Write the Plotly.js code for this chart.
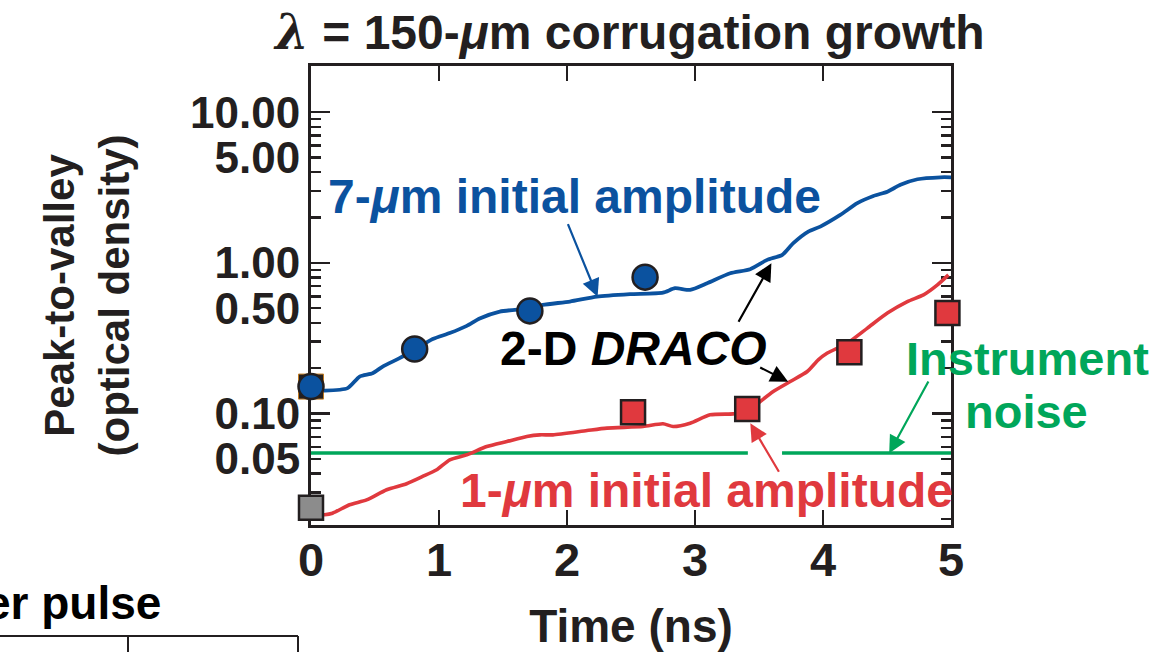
<!DOCTYPE html>
<html>
<head>
<meta charset="utf-8">
<script src="https://cdn.plot.ly/plotly-3.0.1.min.js"></script>
<style>html,body{margin:0;padding:0;background:#fff;}#chart{width:1168px;height:652px;}</style>
</head>
<body>
<div id="chart"></div>
<script>
// ---- data ----
const blueSimT = [0, 0.106, 0.286, 0.380, 0.481, 0.560, 0.692, 0.810, 0.951, 1.084, 1.217, 1.318, 1.475, 1.710, 1.811, 2.023, 2.234, 2.492, 2.750, 2.844, 2.962, 3.095, 3.275, 3.431, 3.564, 3.682, 3.768, 3.885, 3.979, 4.135, 4.268, 4.394, 4.503, 4.605, 4.738, 4.918, 5.0];
const blueSimV = [0.143, 0.142, 0.1475, 0.176, 0.185, 0.205, 0.233, 0.265, 0.312, 0.342, 0.382, 0.427, 0.475, 0.500, 0.526, 0.554, 0.597, 0.620, 0.635, 0.679, 0.662, 0.733, 0.854, 0.908, 1.047, 1.130, 1.352, 1.614, 1.741, 2.08, 2.49, 2.78, 2.97, 3.30, 3.59, 3.70, 3.70];
const redSimT = [0.05, 0.106, 0.168, 0.301, 0.434, 0.591, 0.747, 0.872, 0.982, 1.084, 1.217, 1.373, 1.530, 1.686, 1.788, 1.890, 2.156, 2.312, 2.594, 2.750, 2.829, 2.962, 3.118, 3.298, 3.408, 3.509, 3.611, 3.744, 3.877, 3.963, 4.034, 4.190, 4.347, 4.503, 4.659, 4.785, 4.894, 4.980];
const redSimV = [0.0213, 0.0213, 0.0218, 0.0248, 0.0267, 0.0312, 0.0342, 0.0382, 0.0423, 0.0493, 0.0532, 0.0604, 0.0652, 0.0704, 0.0722, 0.0722, 0.0771, 0.080, 0.082, 0.0855, 0.082, 0.0863, 0.098, 0.0995, 0.1026, 0.120, 0.140, 0.163, 0.190, 0.227, 0.252, 0.293, 0.369, 0.464, 0.553, 0.613, 0.714, 0.832];
const blueExpT = [0, 0.81, 1.71, 2.61];
const blueExpV = [0.151, 0.268, 0.480, 0.804];
const redExpT = [2.516, 3.408, 4.206, 4.972];
const redExpV = [0.102, 0.107, 0.255, 0.464];
const grayExpT = [0];
const grayExpV = [0.0237];
const noiseT = [0, 3.413, null, 3.68, 5];
const noiseV = [0.0546, 0.0546, null, 0.0546, 0.0546];
const xTicks = [0, 1, 2, 3, 4, 5];
const yTickVals = [0.05, 0.1, 0.5, 1, 5, 10];
const yTickText = ['0.05', '0.10', '0.50', '1.00', '5.00', '10.00'];
const yMajorVals = [0.1, 1, 10];
const yMinorVals = [0.02, 0.03, 0.04, 0.06, 0.07, 0.08, 0.09, 0.2, 0.3, 0.4, 0.6, 0.7, 0.8, 0.9, 2, 3, 4, 6, 7, 8, 9];

// ---- styling ----
const FONT = 'Liberation Sans, Arial, Helvetica, sans-serif';
const DARK = '#231f20';
const BLUE = '#0b529f';
const RED = '#e0393e';
const GREEN = '#00a65a';
const GRAY = '#8c8c8c';
const L = 311, R = 951, T = 66, B = 525, W = 1168, H = 652;
const px = x => (x - L) / (R - L);
const py = y => (B - y) / (B - T);
const yRange = [Math.log10(0.0182), Math.log10(20.27)];

const traces = [
  {x: noiseT, y: noiseV, mode: 'lines', line: {color: GREEN, width: 3.5}, hoverinfo: 'skip', connectgaps: false, cliponaxis: false},
  {x: blueSimT, y: blueSimV, mode: 'lines', line: {color: BLUE, width: 3.8, shape: 'spline', smoothing: 0.6}, cliponaxis: false},
  {x: redSimT, y: redSimV, mode: 'lines', line: {color: RED, width: 3.6, shape: 'spline', smoothing: 0.6}, cliponaxis: false},
  {x: [0], y: [blueExpV[0]], mode: 'markers', marker: {symbol: 'square', size: 25, color: DARK, line: {color: '#c07a20', width: 1}}, cliponaxis: false},
  {x: blueExpT, y: blueExpV, mode: 'markers', marker: {symbol: 'circle', size: 25, color: BLUE, line: {color: DARK, width: 2.5}}, cliponaxis: false},
  {x: redExpT, y: redExpV, mode: 'markers', marker: {symbol: 'square', size: 24, color: RED, line: {color: DARK, width: 2.5}}, cliponaxis: false},
  {x: grayExpT, y: grayExpV, mode: 'markers', marker: {symbol: 'square', size: 24, color: GRAY, line: {color: DARK, width: 2.5}}, cliponaxis: false},
  {x: [null], y: [null], yaxis: 'y2', mode: 'markers', hoverinfo: 'skip', showlegend: false}
];

function arrow(hx, hy, tx, ty, color) {
  return {xref: 'paper', yref: 'paper', x: px(hx), y: py(hy), ax: tx - hx, ay: ty - hy,
    axref: 'pixel', ayref: 'pixel', text: '', showarrow: true, arrowhead: 2, arrowsize: 1.6,
    arrowwidth: 2.2, arrowcolor: color, standoff: 0};
}
function label(text, cx, cy, color, size, extra) {
  return Object.assign({xref: 'paper', yref: 'paper', x: px(cx), y: py(cy), xanchor: 'center', yanchor: 'middle',
    text: text, showarrow: false, font: {family: FONT, size: size, color: color, weight: 'bold'}}, extra || {});
}

const annotations = [
  label('7-<i>μ</i>m initial amplitude', 574, 196, BLUE, 48),
  label('1-<i>μ</i>m initial amplitude', 706, 490, RED, 48),
  label('2-D <i>DRACO</i>', 633, 348, '#000000', 48),
  label('Instrument', 1027, 358, GREEN, 47),
  label('noise', 1026, 411, GREEN, 47),
  label('er pulse', 163, 603, '#000000', 46, {xanchor: 'right'}),
  arrow(597.6, 296.7, 567.3, 222.7, BLUE),
  arrow(771.4, 263.3, 737.7, 323.3, '#000000'),
  arrow(788.2, 381.7, 758.7, 366.7, '#000000'),
  arrow(750.3, 423.3, 779.8, 473.3, RED),
  arrow(889.2, 453.3, 929.2, 380, GREEN)
];

const shapes = [
  {type: 'line', xref: 'paper', yref: 'paper', x0: px(0), x1: px(298), y0: py(636), y1: py(636), line: {color: DARK, width: 2}},
  {type: 'line', xref: 'paper', yref: 'paper', x0: px(128), x1: px(128), y0: py(636), y1: py(660), line: {color: DARK, width: 2}},
  {type: 'line', xref: 'paper', yref: 'paper', x0: px(298), x1: px(298), y0: py(636), y1: py(660), line: {color: DARK, width: 2}}
];

const layout = {
  width: W, height: H,
  margin: {l: L, r: W - R, t: T, b: H - B, pad: 0},
  paper_bgcolor: '#ffffff', plot_bgcolor: '#ffffff',
  showlegend: false,
  font: {family: FONT, color: DARK, weight: 'bold'},
  title: {text: '<span style="font-family:DejaVu Serif"><i>λ</i></span> = 150-<i>μ</i>m corrugation growth',
    x: 630 / W, y: 1 - 32 / H, xanchor: 'center', yanchor: 'middle', xref: 'container', yref: 'container',
    font: {family: FONT, size: 48, color: DARK, weight: 'bold'}},
  xaxis: {
    range: [0, 5], tickvals: xTicks, ticktext: xTicks.map(String), ticks: 'inside', ticklen: 15, tickwidth: 2.5,
    tickcolor: DARK, showline: true, linewidth: 3, linecolor: DARK, mirror: 'ticks', showgrid: false, zeroline: false,
    tickfont: {family: FONT, size: 47, color: DARK, weight: 'bold'}, ticklabelstandoff: -8,
    title: {text: 'Time (ns)', font: {family: FONT, size: 46, color: DARK, weight: 'bold'}, standoff: 30},
    layer: 'below traces', automargin: false
  },
  yaxis: {
    type: 'log', range: yRange, tickvals: yTickVals, ticktext: yTickText, ticks: 'inside', ticklen: 10, tickwidth: 2.5,
    tickcolor: DARK, showline: true, linewidth: 3, linecolor: DARK, mirror: 'ticks', showgrid: false, zeroline: false,
    tickfont: {family: FONT, size: 44, color: DARK, weight: 'bold'}, ticklabelstandoff: -1,
    minor: {tickvals: yMinorVals, ticks: 'inside', ticklen: 10, tickwidth: 2.5, tickcolor: DARK, showgrid: false},
    title: {text: 'Peak-to-valley<br>(optical density)', font: {family: FONT, size: 42, color: DARK, weight: 'bold'}, standoff: 48},
    layer: 'below traces', automargin: false
  },
  yaxis2: {
    type: 'log', range: yRange, overlaying: 'y', side: 'left', anchor: 'x', tickvals: yMajorVals, ticks: 'inside',
    ticklen: 19, tickwidth: 2.5, tickcolor: DARK, mirror: 'ticks', showline: false, showgrid: false, zeroline: false,
    showticklabels: false, layer: 'below traces', automargin: false
  },
  annotations: annotations,
  shapes: shapes
};

Plotly.newPlot('chart', traces, layout, {displayModeBar: false, staticPlot: true});
</script>
</body>
</html>
